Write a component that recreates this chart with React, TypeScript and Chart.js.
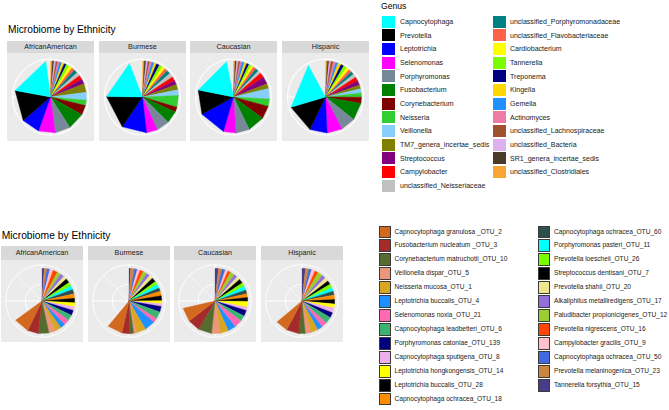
import React, { useEffect, useRef } from 'react';
import { Chart, PieController, ArcElement } from 'chart.js';

// ---------- data ----------
const facets = ['AfricanAmerican', 'Burmese', 'Caucasian', 'Hispanic'];

const genusLabels = [
  'Capnocytophaga', 'Prevotella', 'Leptotrichia', 'Selenomonas', 'Porphyromonas',
  'Fusobacterium', 'Corynebacterium', 'Neisseria', 'Veillonella', 'TM7_genera_incertae_sedis',
  'Streptococcus', 'Campylobacter', 'unclassified_Neisseriaceae', 'unclassified_Porphyromonadaceae',
  'unclassified_Flavobacteriaceae', 'Cardiobacterium', 'Tannerella', 'Treponema', 'Kingella',
  'Gemella', 'Actinomyces', 'unclassified_Lachnospiraceae', 'unclassified_Bacteria',
  'SR1_genera_incertae_sedis', 'unclassified_Clostridiales',
];
const genusColors = [
  '#00FFFF', '#000000', '#0000FF', '#FF00FF', '#778899',
  '#008000', '#800000', '#32CD32', '#87CEFA', '#808000',
  '#800080', '#FF0000', '#C0C0C0', '#008080',
  '#FF6347', '#FFFF00', '#7CFC00', '#000080', '#FFD700',
  '#1E90FF', '#EE7BA3', '#A0522D', '#DDB0EE',
  '#4A3C28', '#F9A533',
];
// relative abundance (% of the full circle)
const genusAfricanAmerican = [20.0, 14.2, 8.3, 7.5, 6.9, 7.8, 4.4, 2.4, 3.5, 3.9, 2.2, 1.9, 1.7, 1.7, 1.4, 1.4, 1.4, 1.1, 1.1, 1.1, 0.8, 0.8, 0.8, 0.8, 0.8];
const genusBurmese = [18.9, 15.7, 11.3, 5.0, 5.8, 5.6, 2.2, 5.3, 2.5, 2.4, 1.9, 1.9, 1.9, 1.7, 1.4, 1.4, 1.4, 1.4, 1.1, 1.1, 1.0, 0.8, 0.8, 0.8, 0.8];
const genusCaucasian = [18.8, 11.1, 12.5, 5.6, 6.1, 7.8, 5.8, 3.3, 4.7, 2.2, 3.3, 2.2, 1.4, 1.4, 1.4, 1.1, 1.1, 1.1, 1.1, 1.1, 0.8, 0.8, 0.8, 0.7, 0.7];
const genusHispanic = [21.7, 13.3, 7.8, 6.9, 6.7, 7.8, 2.8, 1.9, 1.9, 1.7, 1.9, 1.9, 1.7, 1.4, 1.4, 1.4, 1.4, 1.4, 1.4, 1.1, 1.1, 1.1, 0.8, 0.8, 0.8];

const otuLabels = [
  'Capnocytophaga granulosa _OTU_2', 'Fusobacterium nucleatum _OTU_3', 'Corynebacterium matruchotii_OTU_10',
  'Veillonella dispar_OTU_5', 'Neisseria mucosa_OTU_1', 'Leptotrichia buccalis_OTU_4',
  'Selenomonas noxia_OTU_21', 'Capnocytophaga leadbetteri_OTU_6', 'Porphyromonas catoniae_OTU_139',
  'Capnocytophaga sputigena_OTU_8', 'Leptotrichia hongkongensis_OTU_14', 'Leptotrichia buccalis_OTU_28',
  'Capnocytophaga ochracea_OTU_18',
  'Capnocytophaga ochracea_OTU_60', 'Porphyromonas pasteri_OTU_11', 'Prevotella loescheii_OTU_26',
  'Streptococcus dentisani_OTU_7', 'Prevotella shahii_OTU_20', 'Alkaliphilus metalliredigens_OTU_17',
  'Paludibacter propionicigenes_OTU_12', 'Prevotella nigrescens_OTU_16', 'Campylobacter gracilis_OTU_9',
  'Capnocytophaga ochracea_OTU_50', 'Prevotella melaninogenica_OTU_23', 'Tannerella forsythia_OTU_15',
];
const otuColors = [
  '#D2691E', '#A52A2A', '#556B2F', '#E9967A', '#DAA520', '#1E90FF', '#FF69B4', '#3CB371', '#000080',
  '#EEAEEE', '#FFFF00', '#000000', '#FF8C00',
  '#2F4F4F', '#00FFFF', '#7CFC00', '#000000', '#F0E68C', '#9370DB', '#9ACD32', '#FF4500', '#FFC0CB',
  '#4169E1', '#CD853F', '#483D8B',
];
const otuAfricanAmerican = [7.8, 5.3, 5.3, 3.2, 3.1, 2.5, 2.8, 2.8, 2.5, 1.9, 1.9, 2.2, 2.2, 2.2, 1.9, 1.9, 2.2, 1.7, 1.9, 1.9, 2.2, 1.7, 1.4, 1.4, 1.1];
const otuBurmese = [7.5, 3.9, 1.9, 1.4, 4.7, 5.3, 2.2, 3.6, 2.8, 1.4, 1.4, 2.5, 2.2, 1.7, 1.9, 1.7, 2.2, 1.9, 1.7, 1.9, 1.7, 1.4, 1.4, 1.9, 0.8];
const otuCaucasian = [6.9, 6.1, 6.7, 4.2, 4.2, 3.9, 3.9, 2.9, 2.9, 1.7, 2.8, 1.9, 1.9, 1.9, 1.9, 1.9, 2.2, 1.7, 1.7, 2.2, 1.4, 1.4, 1.7, 1.7, 1.7];
const otuHispanic = [6.1, 6.1, 3.3, 2.8, 3.6, 2.5, 2.8, 3.3, 2.5, 2.5, 1.9, 2.2, 2.2, 1.9, 1.9, 1.9, 1.9, 1.9, 1.9, 2.5, 1.7, 1.7, 1.4, 1.7, 1.7];

const genusByFacet = [genusAfricanAmerican, genusBurmese, genusCaucasian, genusHispanic];
const otuByFacet = [otuAfricanAmerican, otuBurmese, otuCaucasian, otuHispanic];

// ---------- custom chart.js pieces: straight-edged pie slices ----------
class ChordArc extends ArcElement {
  static id = 'chordArc';
  draw(ctx: CanvasRenderingContext2D) {
    const { x, y, startAngle, endAngle, outerRadius } = (this as any).getProps(['x', 'y', 'startAngle', 'endAngle', 'outerRadius']);
    const o = (this as any).options;
    ctx.save();
    ctx.fillStyle = o.backgroundColor;
    ctx.strokeStyle = o.backgroundColor;
    ctx.lineWidth = 0.4;
    ctx.lineJoin = 'round';
    ctx.beginPath();
    ctx.moveTo(x, y);
    ctx.lineTo(x + Math.cos(startAngle) * outerRadius, y + Math.sin(startAngle) * outerRadius);
    ctx.lineTo(x + Math.cos(endAngle) * outerRadius, y + Math.sin(endAngle) * outerRadius);
    ctx.closePath();
    ctx.fill();
    ctx.stroke();
    ctx.restore();
  }
}
class ChordPie extends PieController {
  static id = 'chordPie';
  static defaults = { dataElementType: 'chordArc' };
  _getRotationExtents() {
    return { rotation: (this as any)._getRotation(), circumference: Math.PI * 2 };
  }
}
Chart.register(PieController, ArcElement, ChordArc, ChordPie);

type GridSpec = { circles: { r: number; w: number }[]; spokes: { a: number; w: number }[]; spokeR: number };

function makeGridPlugin(spec: GridSpec) {
  return {
    id: 'polarGrid',
    beforeDatasetsDraw(chart: any) {
      const el = chart.getDatasetMeta(0).data[0];
      if (!el) return;
      const { x, y, outerRadius } = el.getProps(['x', 'y', 'outerRadius']);
      const ctx = chart.ctx;
      ctx.save();
      ctx.strokeStyle = '#FFFFFF';
      for (const c of spec.circles) {
        ctx.lineWidth = c.w;
        ctx.beginPath();
        ctx.arc(x, y, outerRadius * c.r, 0, Math.PI * 2);
        ctx.stroke();
      }
      for (const s of spec.spokes) {
        const a = (s.a - 90) * Math.PI / 180;
        ctx.lineWidth = s.w;
        ctx.beginPath();
        ctx.moveTo(x, y);
        ctx.lineTo(x + Math.cos(a) * outerRadius * spec.spokeR, y + Math.sin(a) * outerRadius * spec.spokeR);
        ctx.stroke();
      }
      ctx.restore();
    },
  };
}

const topGrid: GridSpec = {
  circles: [{ r: 1.055, w: 1.1 }],
  spokes: [0, 90, 180, 270].map((a) => ({ a, w: 1.1 })),
  spokeR: 1.055,
};
const bottomGrid: GridSpec = {
  circles: [{ r: 0.51, w: 0.9 }, { r: 1.11, w: 0.9 }],
  spokes: [
    ...[0, 90, 180, 270].map((a) => ({ a, w: 1.2 })),
    ...[45, 135, 225, 315].map((a) => ({ a, w: 0.5 })),
  ],
  spokeR: 1.11,
};

const FONT = '"Liberation Sans", Arial, Helvetica, sans-serif';

function PieFacet(props: {
  values: number[]; colors: string[]; labels: string[];
  left: number; top: number; w: number; h: number; radius: number; grid: GridSpec;
}) {
  const ref = useRef<HTMLCanvasElement>(null);
  useEffect(() => {
    const total = props.values.reduce((s, v) => s + v, 0);
    const chart = new Chart(ref.current as HTMLCanvasElement, {
      type: 'chordPie' as any,
      data: {
        labels: props.labels.slice().reverse(),
        datasets: [{
          data: props.values.slice().reverse(),
          backgroundColor: props.colors.slice().reverse(),
          borderWidth: 0,
          circumference: total * 3.6,
          rotation: 0,
        } as any],
      },
      options: {
        responsive: false,
        animation: false,
        events: [],
        radius: props.radius,
        layout: { padding: 0 },
      } as any,
      plugins: [makeGridPlugin(props.grid)],
    });
    return () => chart.destroy();
  }, []);
  return (
    <canvas
      ref={ref}
      width={props.w}
      height={props.h}
      style={{ position: 'absolute', left: props.left, top: props.top, width: props.w, height: props.h }}
    />
  );
}

function FacetRow(props: {
  lefts: number[]; w: number; stripTop: number; stripH: number; panelTop: number; panelH: number;
  byFacet: number[][]; colors: string[]; labels: string[]; radius: number; grid: GridSpec;
}) {
  return (
    <>
      {facets.map((f, i) => (
        <React.Fragment key={f}>
          <div style={{
            position: 'absolute', left: props.lefts[i], top: props.stripTop, width: props.w, height: props.stripH,
            background: '#D9D9D9', color: '#1A1A1A', fontFamily: FONT, fontSize: 7.2,
            display: 'flex', alignItems: 'center', justifyContent: 'center', lineHeight: 1,
          }}>{f}</div>
          <div style={{
            position: 'absolute', left: props.lefts[i], top: props.panelTop, width: props.w, height: props.panelH,
            background: '#EBEBEB',
          }} />
          <PieFacet
            values={props.byFacet[i]} colors={props.colors} labels={props.labels}
            left={props.lefts[i]} top={props.panelTop} w={props.w} h={props.panelH}
            radius={props.radius} grid={props.grid}
          />
        </React.Fragment>
      ))}
    </>
  );
}

function Legend(props: {
  labels: string[]; colors: string[]; perCol: number; colLefts: number[]; labelOffsets: number[];
  top: number; step: number; sw: number; sh: number; fontSize: number; border: boolean;
}) {
  return (
    <>
      {props.labels.map((lab, i) => {
        const col = Math.floor(i / props.perCol);
        const row = i % props.perCol;
        const t = props.top + row * props.step;
        const l = props.colLefts[col];
        return (
          <React.Fragment key={lab + i}>
            <div style={{
              position: 'absolute', left: l, top: t, width: props.sw, height: props.sh,
              background: props.colors[i], boxSizing: 'border-box',
              border: props.border ? '1px solid #3A3A3A' : 'none',
            }} />
            <div style={{
              position: 'absolute', left: l + props.labelOffsets[col], top: t, height: props.sh,
              display: 'flex', alignItems: 'center', whiteSpace: 'nowrap',
              fontFamily: FONT, fontSize: props.fontSize, color: '#1A1A1A', lineHeight: 1,
            }}>{lab}</div>
          </React.Fragment>
        );
      })}
    </>
  );
}

export default function App() {
  return (
    <div style={{ position: 'absolute', left: 0, top: 0, width: 669, height: 410, background: '#FFFFFF', overflow: 'hidden' }}>
      {/* top chart */}
      <div style={{ position: 'absolute', left: 8, top: 25.4, fontFamily: FONT, fontSize: 10.2, lineHeight: '10.2px', color: '#000', whiteSpace: 'nowrap' }}>
        Microbiome by Ethnicity
      </div>
      <FacetRow
        lefts={[7, 99, 190, 282]} w={87} stripTop={41} stripH={12} panelTop={53} panelH={88}
        byFacet={genusByFacet} colors={genusColors} labels={genusLabels} radius={36} grid={topGrid}
      />
      <div style={{ position: 'absolute', left: 381, top: 2, fontFamily: FONT, fontSize: 8.6, lineHeight: '9px', color: '#000' }}>Genus</div>
      <Legend
        labels={genusLabels} colors={genusColors} perCol={13} colLefts={[382, 493]} labelOffsets={[18, 17]}
        top={15.7} step={13.65} sw={12.5} sh={12} fontSize={7.05} border={false}
      />

      {/* bottom chart */}
      <div style={{ position: 'absolute', left: 1.7, top: 231.4, fontFamily: FONT, fontSize: 10.3, lineHeight: '10.3px', color: '#000', whiteSpace: 'nowrap' }}>
        Microbiome by Ethnicity
      </div>
      <FacetRow
        lefts={[1, 88, 174, 261]} w={82} stripTop={246} stripH={14} panelTop={260} panelH={82}
        byFacet={otuByFacet} colors={otuColors} labels={otuLabels} radius={32.7} grid={bottomGrid}
      />
      <Legend
        labels={otuLabels} colors={otuColors} perCol={13} colLefts={[379, 538]} labelOffsets={[15.5, 16]}
        top={225.5} step={13.95} sw={12} sh={12.6} fontSize={6.6} border={true}
      />
    </div>
  );
}
